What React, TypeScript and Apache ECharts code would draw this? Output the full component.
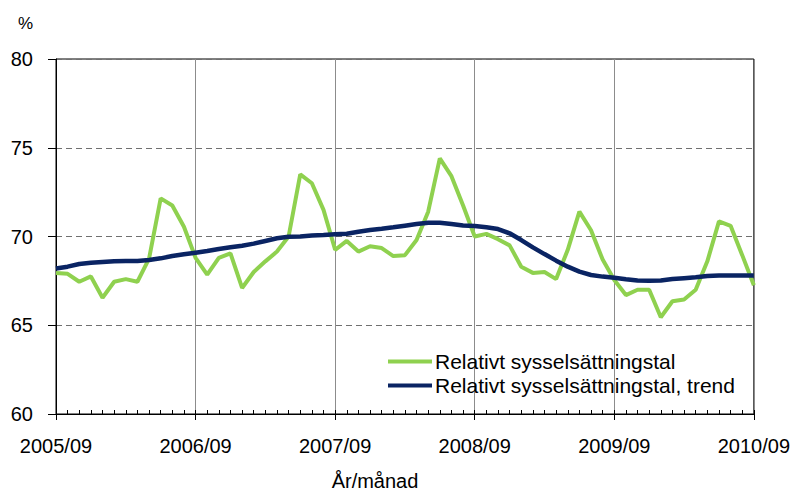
import React, { useEffect, useRef } from "react";
import * as echarts from "echarts";

const startYear = 2005;
const startMonth = 9;
const monthCount = 61;
const months: string[] = [];
for (let i = 0; i < monthCount; i++) {
  const m = startMonth - 1 + i;
  const y = startYear + Math.floor(m / 12);
  const mm = (m % 12) + 1;
  months.push(`${y}/${mm < 10 ? "0" + mm : mm}`);
}

const yTicks = [60, 65, 70, 75, 80];
const xTickLabels = ["2005/09", "2006/09", "2007/09", "2008/09", "2009/09", "2010/09"];

const seriesNames = ["Relativt sysselsättningstal", "Relativt sysselsättningstal, trend"];

const employmentRate = [
  67.95, 67.9, 67.45, 67.75, 66.55, 67.45, 67.6, 67.45, 68.75, 72.15,
  71.75, 70.55, 68.8, 67.85, 68.8, 69.05, 67.1, 68.0, 68.6, 69.15,
  70.0, 73.5, 73.0, 71.5, 69.25, 69.75, 69.15, 69.45, 69.35, 68.9,
  68.95, 69.8, 71.4, 74.4, 73.4, 71.75, 70.0, 70.15, 69.85, 69.5,
  68.3, 67.95, 68.0, 67.6, 69.25, 71.4, 70.35, 68.7, 67.55, 66.7,
  67.0, 67.0, 65.45, 66.35, 66.45, 67.0, 68.6, 70.85, 70.6, 68.95,
  67.25,
];

const employmentTrend = [
  68.2, 68.3, 68.45, 68.52, 68.56, 68.6, 68.62, 68.62, 68.68, 68.77,
  68.9, 69.0, 69.09, 69.18, 69.3, 69.39, 69.48, 69.6, 69.75, 69.9,
  69.98, 70.0, 70.05, 70.08, 70.12, 70.16, 70.27, 70.37, 70.44, 70.52,
  70.61, 70.7, 70.78, 70.78, 70.7, 70.62, 70.59, 70.52, 70.42, 70.18,
  69.8, 69.39, 69.01, 68.64, 68.3, 68.02, 67.83, 67.74, 67.68, 67.59,
  67.52, 67.51, 67.52, 67.6, 67.65, 67.7, 67.77, 67.8, 67.8, 67.8,
  67.8,
];

const FONT = "'Liberation Sans', Arial, sans-serif";

export default function App() {
  const ref = useRef<HTMLDivElement>(null);
  useEffect(() => {
    if (!ref.current) return;
    const chart = echarts.init(ref.current, undefined, { renderer: "svg" });
    chart.setOption({
      animation: false,
      backgroundColor: "#ffffff",
      textStyle: { fontFamily: FONT },
      grid: {
        left: 56,
        right: 37,
        top: 59,
        bottom: 77,
        show: true,
        borderColor: "#000000",
        borderWidth: 1,
        backgroundColor: "transparent",
      },
      legend: {
        orient: "vertical",
        left: 383,
        top: 346,
        icon: "rect",
        itemWidth: 44,
        itemHeight: 4,
        itemGap: 3,
        textStyle: { fontSize: 21, color: "#000000", fontFamily: FONT, padding: [0, 0, 0, -2] },
        data: seriesNames,
      },
      graphic: [
        {
          type: "text",
          left: 18,
          top: 15,
          style: { text: "%", fontSize: 17, fill: "#000000", fontFamily: FONT },
        },
        {
          type: "text",
          x: 375,
          y: 481,
          style: {
            text: "År/månad",
            fontSize: 20,
            fill: "#000000",
            fontFamily: FONT,
            align: "center",
            verticalAlign: "middle",
          },
        },
      ],
      xAxis: [
        {
          type: "category",
          data: months,
          boundaryGap: false,
          axisLine: { show: true, lineStyle: { color: "#000000", width: 1 } },
          axisTick: { show: true, interval: 11, length: 6, lineStyle: { color: "#000000" } },
          axisLabel: {
            interval: 11,
            margin: 22,
            fontSize: 20,
            color: "#000000",
            fontFamily: FONT,
            formatter: (v: string) => (xTickLabels.indexOf(v) >= 0 ? v : ""),
          },
          splitLine: { show: true, interval: 11, lineStyle: { color: "#8c8c8c", width: 1 } },
        },
        {
          type: "category",
          data: months,
          boundaryGap: false,
          position: "bottom",
          axisLine: { show: false },
          axisTick: { show: true, interval: 0, inside: true, length: 4, lineStyle: { color: "#000000" } },
          axisLabel: { show: false },
          splitLine: { show: false },
        },
      ],
      yAxis: {
        type: "value",
        min: yTicks[0],
        max: yTicks[yTicks.length - 1],
        interval: 5,
        axisLine: { show: true, lineStyle: { color: "#000000", width: 1 } },
        axisTick: { show: true, length: 8, lineStyle: { color: "#000000" } },
        axisLabel: { margin: 23, fontSize: 20, color: "#000000", fontFamily: FONT },
        splitLine: { show: true, lineStyle: { color: "#707070", type: [6, 4], width: 1 } },
      },
      series: [
        {
          name: seriesNames[0],
          type: "line",
          data: employmentRate,
          showSymbol: false,
          symbol: "none",
          lineStyle: { color: "#8fd14f", width: 4 },
          itemStyle: { color: "#8fd14f" },
          z: 2,
        },
        {
          name: seriesNames[1],
          type: "line",
          data: employmentTrend,
          showSymbol: false,
          symbol: "none",
          lineStyle: { color: "#0a2463", width: 4.5 },
          itemStyle: { color: "#0a2463" },
          z: 3,
        },
      ],
    });
    return () => chart.dispose();
  }, []);
  return <div ref={ref} style={{ width: 793, height: 491, position: "absolute", left: 0, top: 0 }} />;
}
